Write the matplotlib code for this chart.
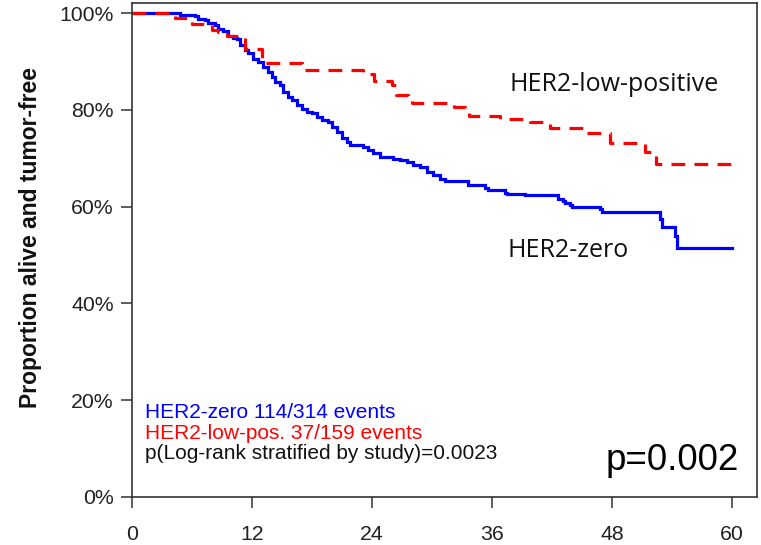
import matplotlib
matplotlib.use("Agg")
import matplotlib.pyplot as plt
from matplotlib.ticker import FuncFormatter

# Kaplan-Meier estimates (months, proportion alive and tumor-free)
zero_months = [0, 4.8, 6.3, 6.6, 7.3, 7.6, 8.3, 8.6, 9.1, 9.6, 10.1, 10.5, 10.8,
               11.3, 11.6, 12.1, 12.6, 13.1, 13.6, 14.0, 14.3, 14.8, 15.1, 15.6,
               16.0, 16.5, 17.0, 17.5, 18.0, 18.5, 19.0, 19.6, 20.0, 20.5, 21.0,
               21.5, 21.8, 23.1, 23.6, 24.1, 24.8, 26.1, 26.8, 27.5, 28.1, 28.8,
               29.5, 30.1, 30.8, 31.3, 33.6, 35.3, 35.6, 37.3, 37.5, 39.3, 42.6,
               43.1, 43.3, 43.8, 44.0, 46.8, 47.0, 52.8, 53.0, 54.3, 54.5, 60.0]
zero_surv = [1.000, 0.996, 0.993, 0.988, 0.985, 0.979, 0.975, 0.968, 0.962, 0.952,
             0.948, 0.946, 0.934, 0.924, 0.917, 0.906, 0.899, 0.889, 0.879, 0.868,
             0.858, 0.851, 0.837, 0.827, 0.820, 0.810, 0.801, 0.796, 0.793, 0.786,
             0.779, 0.775, 0.765, 0.755, 0.741, 0.734, 0.727, 0.724, 0.717, 0.710,
             0.703, 0.699, 0.696, 0.693, 0.686, 0.682, 0.672, 0.665, 0.658, 0.652,
             0.645, 0.638, 0.634, 0.629, 0.627, 0.624, 0.615, 0.612, 0.607, 0.603,
             0.600, 0.595, 0.588, 0.575, 0.558, 0.540, 0.514, 0.514]

lowpos_months = [0, 4.3, 6.0, 8.0, 8.6, 9.5, 11.3, 13.0, 17.0, 23.1, 24.2, 26.0,
                 26.4, 27.6, 28.0, 32.2, 33.3, 33.7, 36.8, 39.8, 41.8, 45.3, 47.8,
                 51.3, 52.4, 60.0]
lowpos_surv = [1.000, 0.990, 0.978, 0.965, 0.960, 0.952, 0.925, 0.896, 0.882, 0.874,
               0.859, 0.852, 0.830, 0.822, 0.815, 0.806, 0.795, 0.787, 0.782, 0.775,
               0.762, 0.752, 0.731, 0.712, 0.689, 0.689]

x_ticks = [0, 12, 24, 36, 48, 60]
y_ticks = [0.0, 0.2, 0.4, 0.6, 0.8, 1.0]

BLUE = "#0000FF"
RED = "#FF0000"
INK = "#222222"

fig = plt.figure(figsize=(7.61, 5.45), dpi=100)
ax = fig.add_axes([132 / 761, 1 - 497 / 545, (757 - 132) / 761, (497 - 3) / 545])

ax.plot(zero_months, zero_surv, drawstyle="steps-post", color=BLUE, lw=2.3,
        solid_joinstyle="miter")
ax.plot(lowpos_months, lowpos_surv, drawstyle="steps-post", color=RED, lw=2.3,
        linestyle=(0, (4.3, 2.9)))

ax.set_xlim(0, 62.5)
ax.set_ylim(0, 1.0207)
ax.set_xticks(x_ticks)
ax.set_yticks(y_ticks)
ax.yaxis.set_major_formatter(FuncFormatter(lambda v, _: f"{v * 100:.0f}%"))

for s in ax.spines.values():
    s.set_color("#333333")
    s.set_linewidth(1.2)
ax.tick_params(axis="both", direction="out", length=8, width=1.1, color="#333333",
               labelcolor=INK)
ax.tick_params(axis="y", labelsize=15.3, pad=5)
ax.tick_params(axis="x", labelsize=15.3, pad=12)
for lab in ax.get_xticklabels() + ax.get_yticklabels():
    lab.set_family("Liberation Sans")

fig.text(31 / 761, 1 - 238 / 545, "Proportion alive and tumor-free", rotation=90,
         ha="center", va="center", fontsize=16.5, fontweight="bold",
         family="Liberation Sans", color="#111111")

ax.text(37.7, 0.853, "HER2-low-positive", fontsize=18, family="Open Sans",
        color="#111111", ha="left", va="center")
ax.text(37.6, 0.510, "HER2-zero", fontsize=18, family="Open Sans",
        color="#111111", ha="left", va="center")

ax.text(1.3, 0.1736, "HER2-zero 114/314 events", fontsize=15,
        family="Liberation Sans", color=BLUE, ha="left", va="center")
ax.text(1.3, 0.132, "HER2-low-pos. 37/159 events", fontsize=15,
        family="Liberation Sans", color=RED, ha="left", va="center")
ax.text(1.3, 0.0905, "p(Log-rank stratified by study)=0.0023", fontsize=15,
        family="Liberation Sans", color="#111111", ha="left", va="center")

ax.text(47.4, 0.0764, "p=0.002", fontsize=26.5, family="Liberation Sans",
        color="#000000", ha="left", va="center")

fig.savefig("out.png", dpi=100, facecolor="white")
